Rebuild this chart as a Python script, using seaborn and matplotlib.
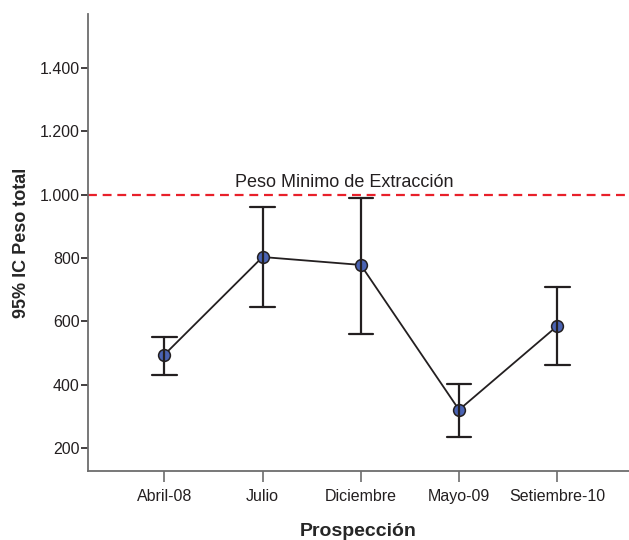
import numpy as np
import pandas as pd
import seaborn as sns
import matplotlib
matplotlib.use("Agg")
import matplotlib.pyplot as plt

# Survey periods and weight summary (mean with 95% CI bounds)
periodos = ["Abril-08", "Julio", "Diciembre", "Mayo-09", "Setiembre-10"]
media = [494, 803, 778, 320, 585]
ic_inferior = [431, 645, 560, 235, 462]
ic_superior = [551, 961, 990, 402, 709]

peso_minimo = 1000
y_ticks = [200, 400, 600, 800, 1000, 1200, 1400]
y_tick_labels = ["200", "400", "600", "800", "1.000", "1.200", "1.400"]

# Long table: each period holds its lower bound, mean and upper bound;
# the median gives the mean and the min/max give the interval.
df = pd.DataFrame({
    "Prospección": np.repeat(periodos, 3),
    "Peso": np.ravel(np.column_stack([ic_inferior, media, ic_superior])),
})

sns.set_style("white")
plt.rcParams["font.family"] = ["Liberation Sans", "DejaVu Sans"]

fig = plt.figure(figsize=(6.29, 5.40), dpi=100)
ax = fig.add_axes([0.140, 0.128, 0.860, 0.846])

sns.pointplot(
    data=df, x="Prospección", y="Peso", order=periodos,
    estimator="median", errorbar=lambda v: (v.min(), v.max()),
    color="#231f20", linewidth=1.3, capsize=0.25,
    err_kws={"linewidth": 1.6},
    markers="o", markersize=8.5,
    markerfacecolor="#4a63b3", markeredgecolor="#231f20", markeredgewidth=1.1,
    ax=ax,
)

ax.axhline(peso_minimo, color="#e8202a", linestyle=(0, (4, 2.6)), linewidth=1.6, zorder=1)
ax.text(1.83, peso_minimo + 12, "Peso Minimo de Extracción", ha="center", va="bottom",
        fontsize=13, color="#231f20")

ax.set_xlim(-0.776, 4.73)
ax.set_ylim(127, 1571)
ax.set_yticks(y_ticks)
ax.set_yticklabels(y_tick_labels)

for side in ["top", "right"]:
    ax.spines[side].set_visible(False)
for side in ["left", "bottom"]:
    ax.spines[side].set_color("#6d6d6d")
    ax.spines[side].set_linewidth(1.3)

ax.tick_params(axis="y", direction="out", length=5, width=1.2, color="#231f20",
               labelsize=11.5, labelcolor="#231f20", pad=1, left=True)
ax.tick_params(axis="x", direction="out", length=8, width=1.2, color="#6d6d6d",
               labelsize=11.5, labelcolor="#231f20", pad=5, bottom=True)

ax.set_ylabel("95% IC Peso total", fontsize=13, fontweight="bold", labelpad=7)
ax.set_xlabel("Prospección", fontsize=14, fontweight="bold", labelpad=14)

fig.savefig("out.png", dpi=100)
